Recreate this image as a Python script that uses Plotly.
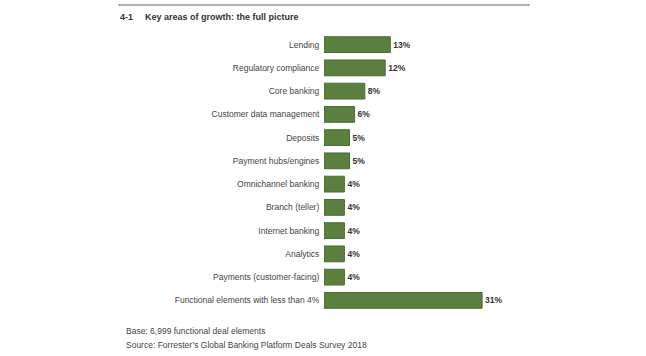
import plotly.graph_objects as go

categories = [
    "Lending", "Regulatory compliance", "Core banking", "Customer data management",
    "Deposits", "Payment hubs/engines", "Omnichannel banking", "Branch (teller)",
    "Internet banking", "Analytics", "Payments (customer-facing)",
    "Functional elements with less than 4%",
]
values = [13, 12, 8, 6, 5, 5, 4, 4, 4, 4, 4, 31]
value_labels = [f"{v}%" for v in values]

title_num = "4-1"
title_text = "Key areas of growth: the full picture"
footnotes = ["Base: 6,999 functional deal elements",
             "Source: Forrester\u2019s Global Banking Platform Deals Survey 2018"]

FONT = "Liberation Sans, Arial, sans-serif"
L, R, T, B = 324, 118, 33, 44
W, H = 646 - L - R, 356 - T - B

fig = go.Figure(go.Bar(
    x=values, y=categories, orientation="h",
    marker=dict(color="#5b7f3f", line=dict(color="#4a6c33", width=1)),
    text=value_labels, textposition="outside",
    textfont=dict(family=FONT, size=8.5, color="#333333", weight="bold"),
    cliponaxis=False, width=0.68,
))

def px_x(px):
    return (px - L) / W

def px_y(py):
    return (356 - B - py) / H

fig.update_layout(
    width=646, height=356,
    margin=dict(l=L, r=R, t=T, b=B),
    paper_bgcolor="white", plot_bgcolor="white",
    showlegend=False,
    font=dict(family=FONT, size=8.5, color="#444444"),
    xaxis=dict(range=[0, 40], visible=False, fixedrange=True),
    yaxis=dict(autorange="reversed", showgrid=False, zeroline=False, showline=False,
               ticks="outside", ticklen=2, tickcolor="rgba(0,0,0,0)",
               tickfont=dict(family=FONT, size=8.5, color="#444444"), fixedrange=True),
    shapes=[dict(type="line", xref="paper", yref="paper",
                 x0=px_x(118), x1=px_x(530), y0=px_y(5), y1=px_y(5),
                 line=dict(color="#b3b3b3", width=2))],
    annotations=[
        dict(text=f"<b>{title_num}</b>", xref="paper", yref="paper", x=px_x(118), y=px_y(17),
             xanchor="left", yanchor="middle", showarrow=False,
             font=dict(family=FONT, size=9, color="#333333")),
        dict(text=f"<b>{title_text}</b>", xref="paper", yref="paper", x=px_x(143), y=px_y(17),
             xanchor="left", yanchor="middle", showarrow=False,
             font=dict(family=FONT, size=9, color="#333333")),
        dict(text=footnotes[0], xref="paper", yref="paper", x=px_x(124), y=px_y(331),
             xanchor="left", yanchor="middle", showarrow=False,
             font=dict(family=FONT, size=8.5, color="#444444")),
        dict(text=footnotes[1], xref="paper", yref="paper", x=px_x(124), y=px_y(345),
             xanchor="left", yanchor="middle", showarrow=False,
             font=dict(family=FONT, size=8.5, color="#444444")),
    ],
)

fig.write_html("out.html", config={"displayModeBar": False},
               post_script="document.body.style.margin='0px';")
